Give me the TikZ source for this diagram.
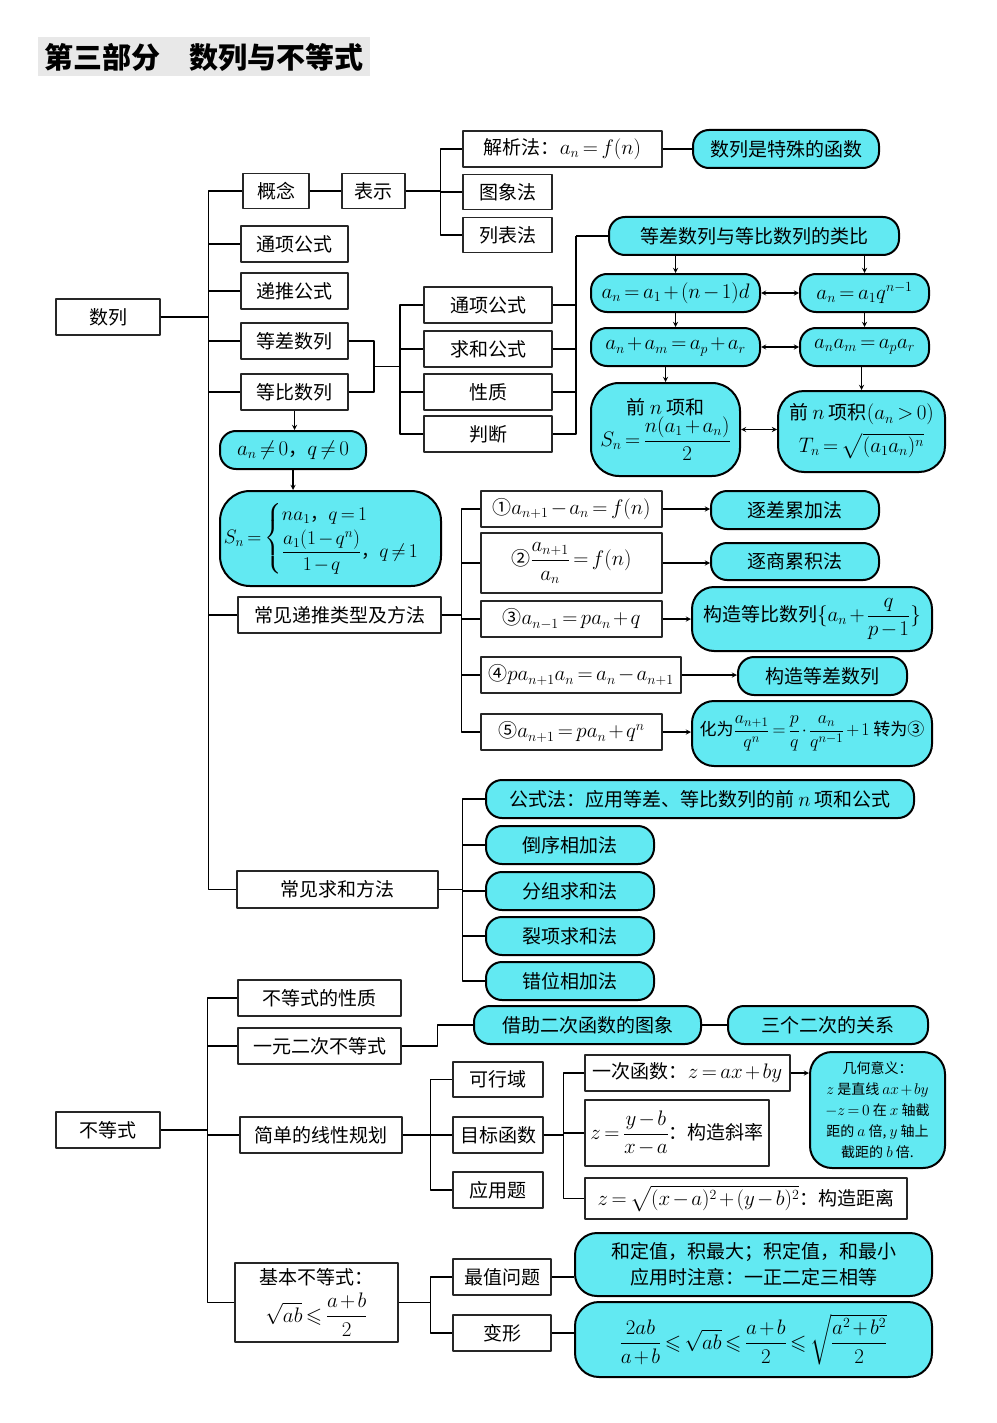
\RequirePackage{fix-cm}
\documentclass[tikz,border=0pt]{standalone}
\usepackage{amsmath,amssymb}
\usepackage{fontspec}
\newfontfamily\cjk{Noto Sans CJK SC}
\DeclareMathSizes{19}{21}{14}{11}
\DeclareMathSizes{18}{19.5}{13.5}{10.5}
\DeclareMathSizes{17}{18}{13}{10}
\DeclareMathSizes{14}{15.5}{11}{9}
\thickmuskip=3mu plus 2mu
\medmuskip=2mu plus 1mu
\definecolor{qing}{RGB}{98,233,242}
\tikzset{
 kuang/.style={draw=black!85, line width=1.2pt, fill=white, minimum height=36, inner sep=2pt, align=center},
 yuan/.style={draw=black, line width=2pt, fill=qing, rounded corners=16, minimum height=38, inner sep=2pt, align=center},
}
\begin{document}
\begin{tikzpicture}[x=1pt, y=-1pt, line width=1.3pt, line join=round, >=stealth, font=\cjk\fontsize{19}{23}\selectfont]
 \useasboundingbox (0,0) rectangle (996,1423);
 % title
 \fill[gray!18] (38,37) rectangle (370,76);
 \node (biaoti) at (204,57) {\fontsize{29}{32}\selectfont\bfseries 第三部分　数列与不等式};
 % sequences
 \node[kuang, minimum width=104] (shulie) at (108,317) {数列};
 \node[kuang, minimum width=66, minimum height=35] (gainian) at (276,191) {概念};
 \node[kuang, minimum width=63, minimum height=35] (biaoshi) at (373.5,191) {表示};
 \node[kuang, minimum width=199] (jiexi) at (562.5,149) {解析法：$a_n=f(n)$};
 \node[kuang, minimum width=89, minimum height=35] (tuxiang) at (507.5,192) {图象法};
 \node[kuang, minimum width=89, minimum height=35] (liebiao) at (507.5,235) {列表法};
 \node[yuan, minimum width=186] (hanshu) at (786,149) {数列是特殊的函数};
 \node[kuang, minimum width=107] (tongxiang) at (294.5,244) {通项公式};
 \node[kuang, minimum width=107] (ditui) at (294.5,291) {递推公式};
 \node[kuang, minimum width=107] (dengcha) at (294.5,341) {等差数列};
 \node[kuang, minimum width=107] (dengbi) at (294.5,392) {等比数列};
 \node[kuang, minimum width=128] (tx) at (488,305) {通项公式};
 \node[kuang, minimum width=128] (qiuhe) at (488,349) {求和公式};
 \node[kuang, minimum width=128] (xingzhi) at (488,392) {性质};
 \node[kuang, minimum width=128] (panduan) at (488,434) {判断};
 \node[yuan, minimum width=290] (leibi) at (754,236) {等差数列与等比数列的类比};
 \node[yuan, minimum width=169] (ca1) at (675.5,293) {$a_n=a_1+(n-1)d$};
 \node[yuan, minimum width=129] (cb1) at (864.5,293) {$a_n=a_1q^{n-1}$};
 \node[yuan, minimum width=169] (ca2) at (675.5,347) {$a_n+a_m=a_p+a_r$};
 \node[yuan, minimum width=129] (cb2) at (864.5,347) {$a_na_m=a_pa_r$};
 \node[yuan, minimum width=149, minimum height=93, rounded corners=28] (qianhe) at (665.5,429.5)
  {前 $n$ 项和\\$S_n=\dfrac{n(a_1+a_n)}{2}$};
 \node[yuan, minimum width=167, minimum height=81, rounded corners=26] (qianji) at (861.5,431.5)
  {前 $n$ 项积$(a_n>0)$\\[7pt]$T_n=\sqrt{(a_1a_n)^n}$};
 \node[yuan, minimum width=146] (anq) at (293,450) {$a_n\neq0$，$q\neq0$};
 \node[yuan, minimum width=221, minimum height=95, rounded corners=30, inner sep=1pt,
  font=\cjk\fontsize{18}{22}\selectfont] (sn) at (330.5,538.5)
  {$S_n=\begin{cases} na_1\text{，}q=1\\[1pt] \dfrac{a_1(1-q^n)}{1-q}\text{，}q\neq1\end{cases}$};
 % recursion
 \node[kuang, minimum width=203] (ditui2) at (339.5,615) {常见递推类型及方法};
 \node[kuang, minimum width=181] (r1) at (571.5,509) {①$a_{n+1}-a_n=f(n)$};
 \node[kuang, minimum width=181, minimum height=60] (r2) at (571.5,563) {②$\dfrac{a_{n+1}}{a_n}=f(n)$};
 \node[kuang, minimum width=181] (r3) at (571.5,619) {③$a_{n-1}=pa_n+q$};
 \node[kuang, minimum width=200] (r4) at (581,675) {④$pa_{n+1}a_n=a_n-a_{n+1}$};
 \node[kuang, minimum width=181] (r5) at (571.5,732) {⑤$a_{n+1}=pa_n+q^n$};
 \node[yuan, minimum width=168] (f1) at (795,510) {逐差累加法};
 \node[yuan, minimum width=168, minimum height=37] (f2) at (795,561.5) {逐商累积法};
 \node[yuan, minimum width=240, minimum height=64, rounded corners=22] (f3) at (812,619)
  {构造等比数列$\{a_n+\dfrac{q}{p-1}\}$};
 \node[yuan, minimum width=169] (f4) at (822.5,676) {构造等差数列};
 \node[yuan, minimum width=240, minimum height=65, rounded corners=22, inner sep=1pt,
  font=\cjk\fontsize{17}{21}\selectfont] (f5) at (812,733.5)
  {化为$\dfrac{a_{n+1}}{q^n}=\dfrac{p}{q}\cdot\dfrac{a_n}{q^{n-1}}+1$ 转为③};
 % sums
 \node[kuang, minimum width=201, minimum height=37] (qiuhe2) at (337.5,889.5) {常见求和方法};
 \node[yuan, minimum width=428] (s1) at (700,799) {公式法：应用等差、等比数列的前 $n$ 项和公式};
 \node[yuan, minimum width=168] (s2) at (570,845) {倒序相加法};
 \node[yuan, minimum width=168] (s3) at (570,891) {分组求和法};
 \node[yuan, minimum width=168] (s4) at (570,936) {裂项求和法};
 \node[yuan, minimum width=168] (s5) at (570,981) {错位相加法};
 % inequalities
 \node[kuang, minimum width=104] (budengshi) at (108,1130) {不等式};
 \node[kuang, minimum width=163] (xingzhi2) at (319.5,998) {不等式的性质};
 \node[kuang, minimum width=163] (yiyuan) at (319.5,1046) {一元二次不等式};
 \node[yuan, minimum width=227] (jiezhu) at (587.5,1025) {借助二次函数的图象};
 \node[yuan, minimum width=200] (sange) at (828,1025) {三个二次的关系};
 \node[kuang, minimum width=162] (xianxing) at (321,1135) {简单的线性规划};
 \node[kuang, minimum width=90, minimum height=35] (kexing) at (498,1079.5) {可行域};
 \node[kuang, minimum width=90] (mubiao) at (498,1135) {目标函数};
 \node[kuang, minimum width=90] (yingyong) at (498,1190) {应用题};
 \node[kuang, minimum width=205] (yici) at (687.5,1073) {一次函数：$z=ax+by$};
 \node[yuan, minimum width=135, minimum height=116, rounded corners=22,
  font=\cjk\fontsize{14}{21}\selectfont] (jihe) at (877.5,1110)
  {几何意义：\\$z$ 是直线 $ax+by$\\$-z=0$ 在 $x$ 轴截\\距的 $a$ 倍, $y$ 轴上\\截距的 $b$ 倍.};
 \node[kuang, minimum width=184, minimum height=66, inner sep=0pt] (xielv) at (677,1133) {$z=\dfrac{y-b}{x-a}$：构造斜率};
 \node[kuang, minimum width=322, minimum height=41] (juli) at (746,1198.5) {$z=\sqrt{(x-a)^2+(y-b)^2}$：构造距离};
 \node[kuang, minimum width=163, minimum height=79] (jiben) at (316.5,1302.5)
  {基本不等式：\\[6pt]$\sqrt{ab}\leqslant\dfrac{a+b}{2}$};
 \node[kuang, minimum width=98] (zuizhi) at (502,1277) {最值问题};
 \node[kuang, minimum width=98] (bianxing) at (502,1333) {变形};
 \node[yuan, minimum width=357, minimum height=63, rounded corners=22,
  font=\cjk\fontsize{19}{26}\selectfont] (he) at (753.5,1264.5)
  {和定值，积最大；积定值，和最小\\应用时注意：一正二定三相等};
 \node[yuan, minimum width=357, minimum height=75, rounded corners=24] (bx2) at (753.5,1339.5)
  {$\dfrac{2ab}{a+b}\leqslant\sqrt{ab}\leqslant\dfrac{a+b}{2}\leqslant\sqrt{\dfrac{a^2+b^2}{2}}$};
 % connectors
 \foreach \n in {gainian,tongxiang,ditui,dengcha,dengbi,ditui2,qiuhe2}
  \draw (shulie.east) -- +(48,0) |- (\n.west);
 \draw (gainian) -- (biaoshi);
 \foreach \n in {jiexi,tuxiang,liebiao}
  \draw (biaoshi.east) -- +(35,0) |- (\n.west);
 \draw (jiexi) -- (hanshu);
 \coordinate (hb) at (374,366.5);
 \draw (dengcha.east) -| (hb);
 \draw (dengbi.east) -| (hb);
 \foreach \n in {tx,qiuhe,xingzhi,panduan}
  \draw (hb) -- +(26,0) |- (\n.west);
 \coordinate (yb) at ([xshift=-32pt]leibi.west);
 \foreach \n in {tx,qiuhe,xingzhi,panduan}
  \draw (\n.east) -| (yb);
 \draw (yb) -- (leibi.west);
 \draw[->] (leibi.south -| ca1) -- (ca1);
 \draw[->] (leibi.south -| cb1) -- (cb1);
 \draw[->] (ca1) -- (ca2);
 \draw[->] (cb1) -- (cb2);
 \draw[->] (ca2.south -| qianhe) -- (qianhe);
 \draw[->] (cb2.south -| qianji) -- (qianji);
 \draw[<->] (ca1) -- (cb1);
 \draw[<->] (ca2) -- (cb2);
 \draw[<->] (qianhe.east) -- (qianhe.east -| qianji.west);
 \draw[->] (dengbi.south) -- (dengbi.south |- anq.north);
 \draw[->] (anq.south) -- (anq.south |- sn.north);
 \foreach \n in {r1,r2,r3,r4,r5}
  \draw (ditui2.east) -- +(20,0) |- (\n.west);
 \foreach \a/\b in {r1/f1,r2/f2,r3/f3,r4/f4,r5/f5}
  \draw[->] (\a.east) -- (\a.east -| \b.west);
 \foreach \n in {s1,s2,s3,s4,s5}
  \draw (qiuhe2.east) -- +(24,0) |- (\n.west);
 \foreach \n in {xingzhi2,yiyuan,xianxing,jiben}
  \draw (budengshi.east) -- +(47,0) |- (\n.west);
 \draw (yiyuan.east) -- +(36,0) |- (jiezhu.west);
 \draw (jiezhu) -- (sange);
 \foreach \n in {kexing,mubiao,yingyong}
  \draw (xianxing.east) -- +(28,0) |- (\n.west);
 \foreach \n in {yici,xielv,juli}
  \draw (mubiao.east) -- +(20,0) |- (\n.west);
 \draw[->] (yici.east) -- (yici.east -| jihe.west);
 \foreach \n in {zuizhi,bianxing}
  \draw (jiben.east) -- +(32,0) |- (\n.west);
 \draw (zuizhi.east) -- (zuizhi.east -| he.west);
 \draw (bianxing.east) -- (bianxing.east -| bx2.west);
\end{tikzpicture}
\end{document}
